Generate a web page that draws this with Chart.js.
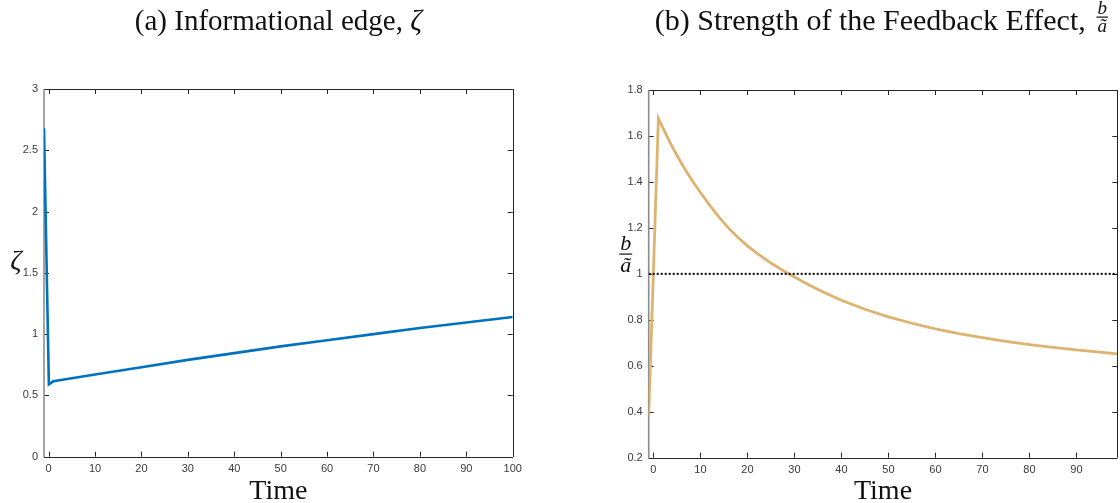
<!DOCTYPE html>
<html>
<head>
<meta charset="utf-8">
<script src="https://cdn.jsdelivr.net/npm/chart.js@4.4.0/dist/chart.umd.min.js"></script>
<style>
  html, body { margin: 0; padding: 0; background: #fff; }
  #wrap { position: relative; width: 1120px; height: 503px; overflow: hidden; }
  .panel { position: absolute; top: 0; width: 560px; height: 503px; }
</style>
</head>
<body>
<div id="wrap">
  <div class="panel" style="left:0"><canvas id="zetaChart" width="560" height="503"></canvas></div>
  <div class="panel" style="left:560px"><canvas id="ratioChart" width="560" height="503"></canvas></div>
</div>
<script>
// panel (a): informational edge
const zetaTime = [-1, 0.05, 1, 5, 10, 20, 30, 40, 50, 60, 70, 80, 90, 100];
const zetaValues = [2.68, 0.59, 0.615, 0.64, 0.67, 0.73, 0.79, 0.845, 0.9, 0.95, 1.0, 1.05, 1.095, 1.14];
const zetaXTicks = [0, 10, 20, 30, 40, 50, 60, 70, 80, 90, 100];
const zetaYTicks = [0, 0.5, 1, 1.5, 2, 2.5, 3];

// panel (b): b / a~
const ratioTime = [-1, 1.06, 2, 3, 4, 5, 6, 7, 8, 9, 10, 12, 14, 16, 18, 20, 22, 25, 28, 30, 33, 36, 40,
  45, 50, 55, 60, 65, 70, 75, 80, 85, 90, 95, 98.7];
const ratioValues = [0.378, 1.677, 1.636, 1.594, 1.554, 1.516, 1.48, 1.446, 1.414, 1.383, 1.354, 1.298,
  1.246, 1.199, 1.158, 1.122, 1.09, 1.047, 1.009, 0.986, 0.953, 0.922, 0.885, 0.846, 0.813, 0.785,
  0.761, 0.74, 0.722, 0.706, 0.692, 0.68, 0.669, 0.659, 0.652];
const ratioRefLevel = 1;
const ratioXTicks = [0, 10, 20, 30, 40, 50, 60, 70, 80, 90];
const ratioYTicks = [0.2, 0.4, 0.6, 0.8, 1, 1.2, 1.4, 1.6, 1.8];

Chart.defaults.font.family = "'Liberation Sans', Arial, sans-serif";
Chart.defaults.font.size = 11;
Chart.defaults.color = '#3a3a3a';

const SERIF = "'Liberation Serif', 'DejaVu Serif', serif";

function drawFraction(ctx, num, den, cx, barY, size) {
  ctx.save();
  ctx.font = 'italic ' + size + 'px ' + SERIF;
  ctx.textAlign = 'center';
  const w = Math.max(ctx.measureText(num).width, ctx.measureText(den).width) + 2;
  ctx.textBaseline = 'alphabetic';
  ctx.fillText(num, cx, barY - size * 0.16);
  ctx.textBaseline = 'top';
  ctx.fillText(den, cx, barY + size * 0.04);
  ctx.fillRect(cx - w / 2, barY - 0.5, w, 1.2);
  ctx.restore();
  return w;
}

// box with inward ticks, like the original figure
const framePlugin = {
  id: 'frame',
  beforeDatasetsDraw(chart) {
    const {ctx, chartArea: a, scales: {x, y}} = chart;
    const len = 5;
    ctx.save();
    ctx.lineWidth = 1;
    ctx.strokeStyle = '#262626';
    ctx.beginPath();
    x.ticks.forEach(t => {
      const px = Math.round(x.getPixelForValue(t.value)) + 0.5;
      ctx.moveTo(px, a.bottom); ctx.lineTo(px, a.bottom - len);
      ctx.moveTo(px, a.top); ctx.lineTo(px, a.top + len);
    });
    y.ticks.forEach(t => {
      const py = Math.round(y.getPixelForValue(t.value)) + 0.5;
      ctx.moveTo(a.left, py); ctx.lineTo(a.left + len, py);
      ctx.moveTo(a.right, py); ctx.lineTo(a.right - len, py);
    });
    ctx.moveTo(a.left, Math.round(a.top) + 0.5); ctx.lineTo(a.right, Math.round(a.top) + 0.5);
    ctx.moveTo(a.left, Math.round(a.bottom) + 0.5); ctx.lineTo(a.right, Math.round(a.bottom) + 0.5);
    ctx.moveTo(Math.round(a.right) + 0.5, a.top); ctx.lineTo(Math.round(a.right) + 0.5, a.bottom);
    ctx.stroke();
    ctx.strokeStyle = '#8c8c8c';
    ctx.lineWidth = 1.6;
    ctx.beginPath();
    ctx.moveTo(a.left, a.top); ctx.lineTo(a.left, a.bottom + 0.5);
    ctx.stroke();
    ctx.restore();
  }
};

const labelPlugin = {
  id: 'labels',
  afterDraw(chart, args, opts) {
    const {ctx, chartArea: a} = chart;
    const cx = (a.left + a.right) / 2;
    const size = opts.titleSize;
    ctx.save();
    ctx.fillStyle = '#111';
    // title
    ctx.font = size + 'px ' + SERIF;
    ctx.textBaseline = 'alphabetic';
    const tw = ctx.measureText(opts.title).width;
    let extra;
    if (opts.titleMath === 'zeta') {
      ctx.font = 'italic ' + size + 'px ' + SERIF;
      extra = ctx.measureText('ζ').width;
    } else {
      extra = 18;
    }
    const start = cx - (tw + extra) / 2;
    ctx.font = size + 'px ' + SERIF;
    ctx.textAlign = 'left';
    ctx.fillText(opts.title, start, 30);
    if (opts.titleMath === 'zeta') {
      ctx.font = 'italic ' + size + 'px ' + SERIF;
      ctx.fillText('ζ', start + tw, 30);
    } else {
      drawFraction(ctx, 'b', 'ã', start + tw + extra / 2, 17, 19);
    }
    // x title
    ctx.font = '28px ' + SERIF;
    ctx.textAlign = 'center';
    ctx.fillText('Time', cx, 499);
    // y title
    if (opts.yMath === 'zeta') {
      ctx.font = 'italic 28px ' + SERIF;
      ctx.textBaseline = 'middle';
      ctx.fillText('ζ', 16, 262);
    } else {
      drawFraction(ctx, 'b', 'ã', a.left - 23, 254, 22);
    }
    ctx.restore();
  }
};

function fixedTicks(values) {
  return scale => { scale.ticks = values.map(v => ({value: v})); };
}

const zetaChart = new Chart(document.getElementById('zetaChart').getContext('2d'), {
  type: 'line',
  data: {
    datasets: [{
      data: zetaTime.map((t, i) => ({x: t, y: zetaValues[i]})),
      borderColor: '#0072BD',
      borderWidth: 2.6,
      pointRadius: 0,
      tension: 0,
      fill: false
    }]
  },
  options: {
    responsive: false,
    animation: false,
    layout: {padding: {top: 89, right: 47.3, left: 0, bottom: 0}},
    plugins: {
      legend: {display: false},
      tooltip: {enabled: false},
      labels: {title: '(a) Informational edge, ', titleMath: 'zeta', yMath: 'zeta', titleSize: 29}
    },
    scales: {
      x: {
        type: 'linear',
        min: -1,
        max: 100,
        grid: {display: false, drawTicks: false},
        border: {display: false},
        ticks: {padding: 6, maxRotation: 0, callback: v => String(v)},
        afterBuildTicks: fixedTicks(zetaXTicks),
        afterFit: scale => { scale.height = 46.3; }
      },
      y: {
        min: 0,
        max: 3,
        grid: {display: false, drawTicks: false},
        border: {display: false},
        ticks: {padding: 6, callback: v => String(v)},
        afterBuildTicks: fixedTicks(zetaYTicks),
        afterFit: scale => { scale.width = 44; }
      }
    }
  },
  plugins: [framePlugin, labelPlugin]
});

const ratioChart = new Chart(document.getElementById('ratioChart').getContext('2d'), {
  type: 'line',
  data: {
    datasets: [
      {
        data: [{x: -1, y: ratioRefLevel}, {x: 98.7, y: ratioRefLevel}],
        borderColor: '#000000',
        borderWidth: 2,
        borderDash: [2, 2],
        pointRadius: 0,
        fill: false
      },
      {
        data: ratioTime.map((t, i) => ({x: t, y: ratioValues[i]})),
        borderColor: '#DDB36F',
        borderWidth: 2.8,
        pointRadius: 0,
        tension: 0,
        fill: false
      }
    ]
  },
  options: {
    responsive: false,
    animation: false,
    layout: {padding: {top: 90, right: 2.7, left: 0, bottom: 0}},
    plugins: {
      legend: {display: false},
      tooltip: {enabled: false},
      labels: {title: '(b) Strength of the Feedback Effect, ', titleMath: 'frac', yMath: 'frac', titleSize: 30}
    },
    scales: {
      x: {
        type: 'linear',
        min: -1,
        max: 98.7,
        grid: {display: false, drawTicks: false},
        border: {display: false},
        ticks: {padding: 6, maxRotation: 0, callback: v => String(v)},
        afterBuildTicks: fixedTicks(ratioXTicks),
        afterFit: scale => { scale.height = 45.3; }
      },
      y: {
        min: 0.2,
        max: 1.8,
        grid: {display: false, drawTicks: false},
        border: {display: false},
        ticks: {padding: 6, callback: v => String(v)},
        afterBuildTicks: fixedTicks(ratioYTicks),
        afterFit: scale => { scale.width = 88.7; }
      }
    }
  },
  plugins: [framePlugin, labelPlugin]
});
</script>
</body>
</html>
